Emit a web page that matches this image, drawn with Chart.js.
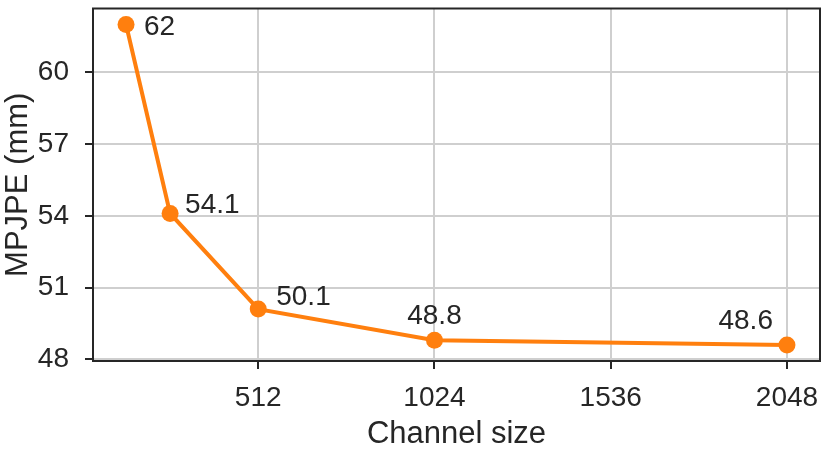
<!DOCTYPE html>
<html>
<head>
<meta charset="utf-8">
<script src="https://cdn.jsdelivr.net/npm/chart.js@4.4.1/dist/chart.umd.min.js"></script>
<style>
  html, body { margin: 0; padding: 0; background: #fff; }
  #wrap { width: 830px; height: 450px; }
</style>
</head>
<body>
<div id="wrap"><canvas id="mpjpeChart" width="830" height="450"></canvas></div>
<script>
// data
const channelSizes = [128, 256, 512, 1024, 2048];
const mpjpeValues = [62, 54.1, 50.1, 48.8, 48.6];
const xTickValues = [512, 1024, 1536, 2048];
const yTickValues = [48, 51, 54, 57, 60];

// where each value label sits relative to its point
const labelDx = [18, 15, 18, 0, -14];
const labelDy = [3, -8, -12, -24, -24];
const labelAlign = ['left', 'left', 'left', 'center', 'right'];

const ORANGE = '#ff7f0e';
const DARK = '#262626';
const GRID = '#cfcfcf';
const FONT = 'Liberation Sans, Arial, Helvetica, sans-serif';

// draw the value labels next to the points
const pointLabels = {
    id: 'pointLabels',
    afterDatasetsDraw(chart) {
        const ctx = chart.ctx;
        const meta = chart.getDatasetMeta(0);
        ctx.save();
        ctx.font = '28px ' + FONT;
        ctx.fillStyle = DARK;
        ctx.textBaseline = 'middle';
        meta.data.forEach((pt, i) => {
            ctx.textAlign = labelAlign[i];
            ctx.fillText(String(mpjpeValues[i]), pt.x + labelDx[i], pt.y + labelDy[i]);
        });
        ctx.restore();
    }
};

// top and right spines
const frame = {
    id: 'frame',
    afterDraw(chart) {
        const a = chart.chartArea;
        const ctx = chart.ctx;
        ctx.save();
        ctx.strokeStyle = DARK;
        ctx.lineWidth = 2;
        ctx.strokeRect(a.left, a.top, a.right - a.left, a.bottom - a.top);
        ctx.restore();
    }
};

const chart = new Chart(document.getElementById('mpjpeChart'), {
    type: 'line',
    data: {
        datasets: [{
            data: channelSizes.map((x, i) => ({ x: x, y: mpjpeValues[i] })),
            borderColor: ORANGE,
            backgroundColor: ORANGE,
            borderWidth: 4,
            pointRadius: 8.5,
            pointBorderWidth: 0,
            pointBackgroundColor: ORANGE,
            tension: 0,
            clip: false
        }]
    },
    options: {
        responsive: false,
        animation: false,
        devicePixelRatio: 1,
        layout: { padding: { top: 8, right: 10, left: 0, bottom: 0 } },
        plugins: {
            legend: { display: false },
            tooltip: { enabled: false }
        },
        scales: {
            x: {
                type: 'linear',
                min: 32,
                max: 2144,
                afterBuildTicks: (scale) => { scale.ticks = xTickValues.map(v => ({ value: v })); },
                afterFit: (scale) => {
                    scale.height = 89;
                    scale.paddingLeft = 0;
                    scale.paddingRight = 0;
                },
                grid: { color: GRID, lineWidth: 2, tickLength: 8, tickColor: DARK, tickWidth: 2 },
                border: { display: true, color: DARK, width: 2 },
                ticks: {
                    color: DARK,
                    padding: 12,
                    maxRotation: 0,
                    font: { family: FONT, size: 28 },
                    callback: (v) => String(v)
                },
                title: {
                    display: true,
                    text: 'Channel size',
                    color: DARK,
                    font: { family: FONT, size: 31 },
                    padding: { top: 0, bottom: -3 }
                }
            },
            y: {
                type: 'linear',
                min: 47.93,
                max: 62.67,
                afterBuildTicks: (scale) => { scale.ticks = yTickValues.map(v => ({ value: v })); },
                afterFit: (scale) => {
                    scale.width = 93;
                    scale.paddingTop = 0;
                    scale.paddingBottom = 0;
                },
                grid: { color: GRID, lineWidth: 2, tickLength: 8, tickColor: DARK, tickWidth: 2 },
                border: { display: true, color: DARK, width: 2 },
                ticks: {
                    color: DARK,
                    padding: 16,
                    font: { family: FONT, size: 28 },
                    callback: (v) => String(v)
                },
                title: {
                    display: true,
                    text: 'MPJPE (mm)',
                    color: DARK,
                    font: { family: FONT, size: 31 },
                    padding: { top: 0, bottom: 0 }
                }
            }
        }
    },
    plugins: [pointLabels, frame]
});
</script>
</body>
</html>
